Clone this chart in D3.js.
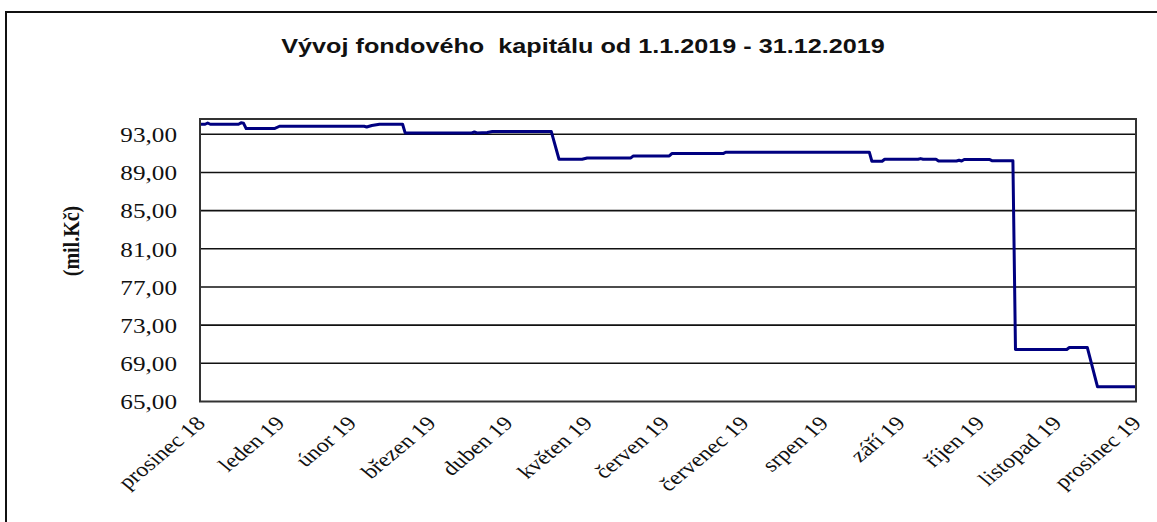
<!DOCTYPE html>
<html lang="cs">
<head>
<meta charset="utf-8">
<title>Vývoj fondového kapitálu</title>
<script src="https://cdn.jsdelivr.net/npm/d3@7"></script>
<style>
  * { margin: 0; padding: 0; }
  body { background: #fff; }
</style>
</head>
<body>
<div id="chart"></div>
<script>
// data
var dates = ["2018-12-31", "2019-01-02", "2019-01-03", "2019-01-04", "2019-01-15", "2019-01-16", "2019-01-17",
  "2019-01-18", "2019-01-29", "2019-01-31", "2019-03-05", "2019-03-06", "2019-03-07", "2019-03-08", "2019-03-11",
  "2019-03-20", "2019-03-21", "2019-04-16", "2019-04-17", "2019-04-18", "2019-04-22", "2019-04-24", "2019-05-17",
  "2019-05-20", "2019-05-29", "2019-05-31", "2019-06-17", "2019-06-18", "2019-07-02", "2019-07-03", "2019-07-23",
  "2019-07-24", "2019-09-18", "2019-09-19", "2019-09-23", "2019-09-24", "2019-10-07", "2019-10-08", "2019-10-09",
  "2019-10-14", "2019-10-15", "2019-10-22", "2019-10-23", "2019-10-24", "2019-10-25", "2019-11-04", "2019-11-05",
  "2019-11-13", "2019-11-14", "2019-12-04", "2019-12-05", "2019-12-12", "2019-12-16", "2019-12-31"];
var values = [94.05, 94.05, 94.18, 94.05, 94.05, 94.20, 94.15,
  93.60, 93.60, 93.84, 93.84, 93.76, 93.84, 93.92, 94.05,
  94.05, 93.14, 93.14, 93.24, 93.14, 93.18, 93.28, 93.28,
  90.38, 90.38, 90.52, 90.52, 90.73, 90.73, 90.98, 90.98,
  91.12, 91.12, 90.17, 90.17, 90.38, 90.38, 90.45, 90.38,
  90.38, 90.20, 90.20, 90.28, 90.20, 90.35, 90.35, 90.22,
  90.22, 70.45, 70.45, 70.66, 70.66, 66.54, 66.54];

var tickDates = ["2018-12-31", "2019-01-31", "2019-02-28", "2019-03-31", "2019-04-30", "2019-05-31",
  "2019-06-30", "2019-07-31", "2019-08-31", "2019-09-30", "2019-10-31", "2019-11-30", "2019-12-31"];
var monthLabels = ["prosinec 18", "leden 19", "únor 19", "březen 19", "duben 19", "květen 19",
  "červen 19", "červenec 19", "srpen 19", "září 19", "říjen 19", "listopad 19", "prosinec 19"];
var yTicks = [65, 69, 73, 77, 81, 85, 89, 93];

var width = 1157, height = 522;
var plot = { left: 200, right: 1136, top: 119, bottom: 401.5 };
var stretch = 1.2; // the reference text is drawn wider than tall

var parse = d3.timeParse("%Y-%m-%d");
var series = dates.map(function(d, i) { return { date: parse(d), value: values[i] }; });

var svg = d3.select("#chart").append("svg")
  .attr("width", width)
  .attr("height", height);

// outer frame (only top and left are in view)
svg.append("path")
  .attr("d", "M6," + height + "V12H" + width)
  .attr("fill", "none")
  .attr("stroke", "#111")
  .attr("stroke-width", 2);

var x = d3.scaleTime()
  .domain([parse(tickDates[0]), parse(tickDates[tickDates.length - 1])])
  .range([plot.left, plot.right]);
var y = d3.scaleLinear()
  .domain([65, 94.6])
  .range([plot.bottom, plot.top]);

// title
svg.append("text")
  .attr("transform", "translate(583,53) scale(" + stretch + ",1)")
  .attr("text-anchor", "middle")
  .attr("font-family", "Liberation Sans, Arial, sans-serif")
  .attr("font-weight", "bold")
  .attr("font-size", 21)
  .attr("fill", "#111")
  .text("Vývoj fondového  kapitálu od 1.1.2019 - 31.12.2019")
  .style("white-space", "pre");

// gridlines
svg.append("g")
  .selectAll("line")
  .data(yTicks.slice(1))
  .join("line")
  .attr("x1", plot.left)
  .attr("x2", plot.right)
  .attr("y1", function(d) { return y(d); })
  .attr("y2", function(d) { return y(d); })
  .attr("stroke", "#111")
  .attr("stroke-width", 1.6);

// y axis labels
var yAxis = d3.axisLeft(y)
  .tickValues(yTicks)
  .tickSize(0)
  .tickFormat(function(d) { return d3.format(".2f")(d).replace(".", ","); });
var yAxisG = svg.append("g")
  .attr("transform", "translate(" + plot.left + ",0)")
  .call(yAxis);
yAxisG.select(".domain").remove();
yAxisG.selectAll("text")
  .attr("x", null)
  .attr("dy", null)
  .attr("dominant-baseline", "central")
  .attr("transform", "translate(-23,0) scale(" + stretch + ",1)")
  .attr("font-family", "Liberation Serif, Times New Roman, serif")
  .attr("font-size", 21)
  .attr("fill", "#111");

// y axis title
svg.append("text")
  .attr("transform", "translate(79,241) scale(" + stretch + ",1) rotate(-90)")
  .attr("text-anchor", "middle")
  .attr("font-family", "Liberation Serif, Times New Roman, serif")
  .attr("font-weight", "bold")
  .attr("font-size", 20)
  .attr("fill", "#111")
  .text("(mil.Kč)");

// x axis labels
var xAxis = d3.axisBottom(x)
  .tickValues(tickDates.map(parse))
  .tickSize(0)
  .tickFormat(function(d, i) { return monthLabels[i]; });
var xAxisG = svg.append("g")
  .attr("transform", "translate(0," + plot.bottom + ")")
  .call(xAxis);
xAxisG.select(".domain").remove();
xAxisG.selectAll("text")
  .attr("y", null)
  .attr("dy", null)
  .attr("text-anchor", "end")
  .attr("transform", "translate(6,23) scale(" + stretch + ",1) rotate(-45)")
  .attr("font-family", "Liberation Serif, Times New Roman, serif")
  .attr("font-size", 20)
  .attr("fill", "#111");

// series
var line = d3.line()
  .x(function(d) { return x(d.date); })
  .y(function(d) { return y(d.value); });
svg.append("path")
  .datum(series)
  .attr("d", line)
  .attr("fill", "none")
  .attr("stroke", "#000080")
  .attr("stroke-width", 3)
  .attr("stroke-linejoin", "round");

// plot border
svg.append("rect")
  .attr("x", plot.left)
  .attr("y", plot.top)
  .attr("width", plot.right - plot.left)
  .attr("height", plot.bottom - plot.top)
  .attr("fill", "none")
  .attr("stroke", "#333")
  .attr("stroke-width", 2);
</script>
</body>
</html>
